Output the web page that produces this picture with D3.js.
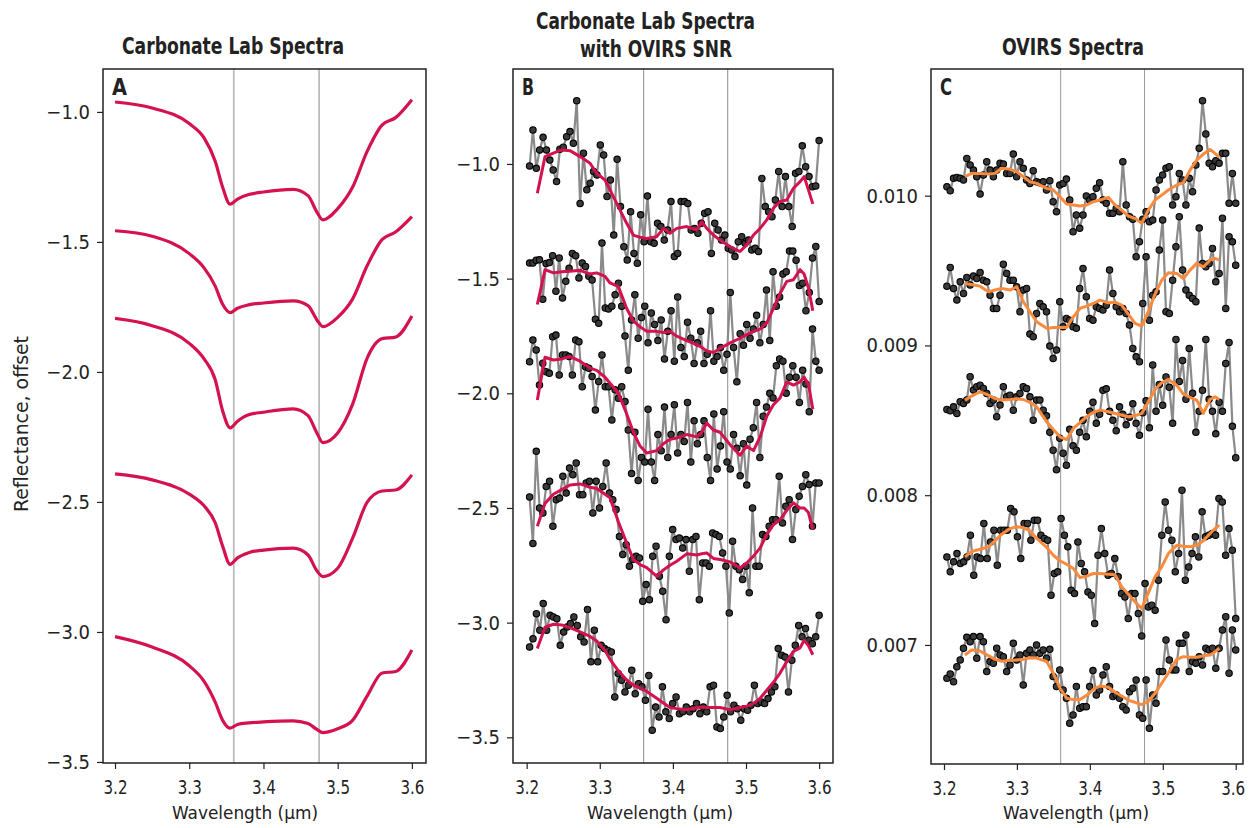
<!DOCTYPE html>
<html>
<head>
<meta charset="utf-8">
<script src="https://cdn.jsdelivr.net/npm/d3@7"></script>
<style>
body { margin: 0; background: #fff; }
svg text { font-family: 'Liberation Sans Narrow', 'DejaVu Sans Condensed', 'Liberation Sans', sans-serif; fill: #222; }
</style>
</head>
<body>
<svg id="chart" width="1249" height="828"></svg>
<script>
// ---- panel A: lab spectra (smooth) ----
var wlLab = [3.20, 3.25, 3.30, 3.32, 3.335, 3.345, 3.355, 3.365, 3.38, 3.40, 3.44, 3.46, 3.472, 3.48, 3.50, 3.52, 3.54, 3.56, 3.578, 3.60];
var lab1 = [-0.962, -0.985, -1.045, -1.10, -1.19, -1.29, -1.355, -1.335, -1.318, -1.308, -1.298, -1.322, -1.385, -1.415, -1.372, -1.29, -1.15, -1.05, -1.022, -0.953];
var lab2 = [-1.457, -1.478, -1.545, -1.60, -1.67, -1.74, -1.772, -1.755, -1.742, -1.735, -1.727, -1.745, -1.80, -1.826, -1.79, -1.72, -1.59, -1.49, -1.462, -1.403];
var lab3 = [-1.794, -1.822, -1.89, -1.95, -2.03, -2.15, -2.215, -2.19, -2.165, -2.155, -2.142, -2.168, -2.235, -2.272, -2.235, -2.125, -1.945, -1.872, -1.866, -1.785];
var lab4 = [-2.392, -2.415, -2.47, -2.515, -2.58, -2.67, -2.74, -2.715, -2.695, -2.685, -2.678, -2.704, -2.765, -2.787, -2.755, -2.64, -2.50, -2.458, -2.454, -2.396];
var lab5 = [-3.018, -3.058, -3.13, -3.19, -3.27, -3.34, -3.37, -3.356, -3.35, -3.346, -3.342, -3.352, -3.375, -3.387, -3.372, -3.34, -3.245, -3.158, -3.152, -3.069];

// ---- channel range of the noisy spectra (B and C) ----
var chanStart = 3.204, chanEnd = 3.600;

// ---- panel B: lab spectra with OVIRS SNR ----
var snr1 = [-1.009,-0.852,-1.019,-0.939,-0.884,-0.939,-0.983,-1.026,-1.077,-0.936,-0.927,-0.881,-0.859,-0.910,-0.724,-1.172,-0.953,-1.113,-1.084,-1.033,-1.048,-0.917,-0.961,-1.142,-1.070,-1.310,-0.980,-1.186,-1.361,-1.419,-1.208,-1.390,-1.433,-1.222,-1.339,-1.140,-1.339,-1.346,-1.259,-1.273,-1.332,-1.288,-1.164,-1.404,-1.390,-1.164,-1.164,-1.172,-1.288,-1.281,-1.302,-1.259,-1.215,-1.208,-1.390,-1.259,-1.288,-1.332,-1.310,-1.368,-1.375,-1.404,-1.339,-1.317,-1.346,-1.332,-1.375,-1.368,-1.382,-1.063,-1.186,-1.208,-1.230,-1.157,-1.033,-1.186,-1.055,-1.186,-1.273,-1.041,-1.033,-0.921,-1.012,-1.055,-1.099,-1.096,-0.898];
var snr2 = [-1.432,-1.432,-1.420,-1.418,-1.590,-1.434,-1.430,-1.400,-1.555,-1.410,-1.585,-1.512,-1.455,-1.390,-1.400,-1.497,-1.432,-1.447,-1.490,-1.506,-1.677,-1.695,-1.345,-1.628,-1.632,-1.620,-1.570,-1.520,-1.620,-1.750,-1.900,-1.680,-1.570,-1.760,-1.670,-1.620,-1.780,-1.650,-1.700,-1.770,-1.680,-1.850,-1.730,-1.640,-1.860,-1.580,-1.800,-1.840,-1.690,-1.760,-1.870,-1.780,-1.730,-1.870,-1.830,-1.640,-1.860,-1.840,-1.800,-1.900,-1.830,-1.560,-1.800,-1.950,-1.740,-1.790,-1.700,-1.760,-1.720,-1.660,-1.780,-1.700,-1.550,-1.770,-1.470,-1.620,-1.580,-1.480,-1.470,-1.380,-1.380,-1.420,-1.530,-1.520,-1.640,-1.560,-1.410,-1.360,-1.600];
var snr3 = [-1.862,-1.768,-1.811,-1.964,-1.869,-1.906,-1.913,-1.753,-1.746,-1.920,-1.833,-1.833,-1.840,-1.920,-1.768,-1.775,-1.971,-1.884,-1.891,-1.927,-2.073,-1.949,-1.833,-1.971,-1.971,-2.116,-1.985,-2.022,-1.971,-2.036,-2.16,-2.35,-2.17,-2.38,-2.28,-2.30,-2.07,-2.30,-2.38,-2.18,-2.25,-2.06,-2.28,-2.18,-2.05,-2.26,-2.18,-2.21,-2.04,-2.30,-2.12,-2.22,-2.18,-2.12,-2.28,-2.38,-2.09,-2.33,-2.23,-2.08,-2.30,-2.33,-2.18,-2.24,-2.36,-2.22,-2.40,-2.20,-2.15,-2.04,-2.28,-2.10,-2.06,-2.00,-2.02,-1.88,-1.85,-1.86,-2.00,-1.93,-1.88,-1.93,-2.04,-1.90,-1.96,-2.08,-1.72,-1.86,-1.90];
var snr4 = [-2.452,-2.655,-2.253,-2.500,-2.522,-2.406,-2.384,-2.580,-2.464,-2.457,-2.362,-2.435,-2.326,-2.355,-2.304,-2.442,-2.442,-2.391,-2.384,-2.522,-2.384,-2.500,-2.406,-2.304,-2.435,-2.464,-2.507,-2.624,-2.703,-2.660,-2.754,-2.725,-2.711,-2.718,-2.907,-2.834,-2.900,-2.711,-2.667,-2.798,-2.863,-2.987,-2.711,-2.594,-2.638,-2.631,-2.675,-2.638,-2.776,-2.638,-2.624,-2.900,-2.740,-2.740,-2.754,-2.609,-2.616,-2.624,-2.696,-2.754,-2.958,-2.645,-2.754,-2.769,-2.812,-2.754,-2.870,-2.500,-2.754,-2.754,-2.616,-2.624,-2.580,-2.551,-2.551,-2.362,-2.565,-2.493,-2.464,-2.638,-2.507,-2.449,-2.406,-2.355,-2.398,-2.580,-2.391,-2.391];
var snr5 = [-3.106,-3.070,-2.961,-3.033,-2.917,-3.033,-2.968,-2.975,-2.983,-3.099,-3.041,-3.019,-3.004,-2.975,-3.012,-3.062,-3.084,-2.943,-3.171,-3.033,-3.171,-3.099,-3.113,-3.121,-3.128,-3.324,-3.222,-3.251,-3.302,-3.273,-3.208,-3.310,-3.266,-3.280,-3.338,-3.230,-3.469,-3.368,-3.411,-3.280,-3.389,-3.418,-3.353,-3.324,-3.397,-3.389,-3.368,-3.389,-3.375,-3.353,-3.397,-3.368,-3.389,-3.280,-3.273,-3.455,-3.462,-3.411,-3.317,-3.389,-3.360,-3.375,-3.426,-3.375,-3.382,-3.360,-3.273,-3.353,-3.346,-3.353,-3.331,-3.302,-3.280,-3.113,-3.142,-3.150,-3.302,-3.164,-3.099,-3.012,-3.062,-3.026,-3.077,-3.092,-3.062,-2.968];

var wlSmoothB = [3.2146,3.2251,3.2365,3.2479,3.2593,3.2730,3.2867,3.2958,3.3072,3.3140,3.3254,3.3368,3.3460,3.3551,3.3642,3.3779,3.3870,3.3961,3.4053,3.4189,3.4326,3.4395,3.4463,3.4554,3.4645,3.4782,3.4919,3.5010,3.5102,3.5193,3.5284,3.5375,3.5466,3.5558,3.5649,3.5740,3.5795,3.5854,3.5914];
var smB1 = [-1.128,-0.968,-0.953,-0.939,-0.942,-0.968,-0.997,-1.041,-1.070,-1.113,-1.186,-1.259,-1.310,-1.320,-1.325,-1.317,-1.281,-1.302,-1.281,-1.273,-1.288,-1.252,-1.281,-1.310,-1.332,-1.361,-1.382,-1.353,-1.310,-1.281,-1.244,-1.193,-1.164,-1.157,-1.106,-1.077,-1.055,-1.113,-1.174];
var smB2 = [-1.613,-1.461,-1.475,-1.470,-1.468,-1.464,-1.480,-1.475,-1.490,-1.519,-1.535,-1.630,-1.685,-1.710,-1.730,-1.730,-1.735,-1.730,-1.751,-1.770,-1.788,-1.800,-1.815,-1.822,-1.805,-1.780,-1.760,-1.744,-1.730,-1.720,-1.693,-1.630,-1.565,-1.512,-1.505,-1.461,-1.480,-1.540,-1.640];
var smB3 = [-2.029,-1.843,-1.855,-1.850,-1.840,-1.860,-1.890,-1.900,-1.930,-1.956,-2.000,-2.090,-2.170,-2.230,-2.260,-2.250,-2.220,-2.200,-2.195,-2.180,-2.190,-2.170,-2.130,-2.160,-2.170,-2.224,-2.270,-2.230,-2.250,-2.190,-2.100,-2.050,-2.020,-1.950,-1.964,-1.950,-1.930,-1.960,-2.070];
var smB4 = [-2.580,-2.480,-2.440,-2.420,-2.400,-2.395,-2.410,-2.415,-2.440,-2.456,-2.560,-2.653,-2.725,-2.747,-2.760,-2.798,-2.770,-2.750,-2.732,-2.700,-2.705,-2.700,-2.696,-2.720,-2.725,-2.735,-2.762,-2.740,-2.710,-2.674,-2.616,-2.573,-2.551,-2.510,-2.478,-2.500,-2.500,-2.520,-2.594];
var smB5 = [-3.113,-3.020,-3.007,-3.010,-3.022,-3.040,-3.060,-3.080,-3.121,-3.160,-3.210,-3.250,-3.273,-3.285,-3.300,-3.330,-3.350,-3.370,-3.375,-3.380,-3.370,-3.368,-3.370,-3.370,-3.370,-3.380,-3.370,-3.365,-3.352,-3.330,-3.295,-3.260,-3.220,-3.170,-3.125,-3.110,-3.077,-3.100,-3.140];

// ---- panel C: OVIRS spectra ----
var ov1 = [0.010060,0.010033,0.010116,0.010122,0.010116,0.010105,0.010249,0.010205,0.010171,0.010127,0.010011,0.010138,0.010227,0.010171,0.010127,0.010171,0.010216,0.010211,0.010149,0.010149,0.010278,0.010127,0.010227,0.010183,0.010105,0.010082,0.010167,0.010093,0.010087,0.010093,0.010038,0.010100,0.009960,0.009893,0.010071,0.010082,0.010111,0.009971,0.009760,0.009871,0.009782,0.009871,0.009998,0.009971,0.009993,0.010049,0.010087,0.009971,0.009949,0.009882,0.009882,0.009915,0.009893,0.010227,0.009938,0.009860,0.009842,0.009593,0.009693,0.009842,0.009893,0.009826,0.009837,0.010038,0.010105,0.010138,0.010183,0.010194,0.009938,0.009993,0.010149,0.010105,0.009938,0.010116,0.010027,0.010205,0.010316,0.010634,0.010412,0.010216,0.010194,0.010234,0.010216,0.010283,0.010283,0.009949,0.010149,0.009949];
var ov2 = [0.009396,0.009521,0.009381,0.009303,0.009425,0.009347,0.009454,0.009403,0.009463,0.009447,0.009487,0.009436,0.009425,0.009336,0.009247,0.009247,0.009336,0.009543,0.009481,0.009436,0.009436,0.009392,0.009225,0.009370,0.009381,0.009076,0.009058,0.009214,0.009280,0.009258,0.009225,0.008996,0.008913,0.008969,0.009292,0.009125,0.009180,0.009169,0.009125,0.009114,0.009381,0.009514,0.009325,0.009180,0.009169,0.009258,0.009247,0.009236,0.009269,0.009503,0.009347,0.009258,0.009225,0.009247,0.009214,0.009136,0.008980,0.008924,0.008891,0.009280,0.009592,0.009169,0.009336,0.009358,0.009637,0.009837,0.009225,0.009214,0.009436,0.009659,0.009860,0.009503,0.009370,0.009336,0.009314,0.009292,0.009784,0.009548,0.009525,0.009548,0.009648,0.009425,0.009481,0.009850,0.009247,0.009726,0.009692,0.009536];
var ov3 = [0.008573,0.008564,0.008590,0.008546,0.008624,0.008613,0.008635,0.008791,0.008702,0.008724,0.008735,0.008713,0.008679,0.008613,0.008635,0.008524,0.008602,0.008724,0.008657,0.008668,0.008568,0.008657,0.008679,0.008724,0.008713,0.008657,0.008501,0.008635,0.008635,0.008568,0.008530,0.008420,0.008300,0.008170,0.008380,0.008280,0.008200,0.008440,0.008330,0.008300,0.008420,0.008500,0.008390,0.008560,0.008620,0.008480,0.008540,0.008700,0.008710,0.008560,0.008500,0.008430,0.008590,0.008540,0.008470,0.008520,0.008610,0.008480,0.008400,0.008550,0.008630,0.008450,0.008870,0.008560,0.008740,0.008600,0.008790,0.008720,0.008480,0.009040,0.008760,0.008900,0.008640,0.008980,0.008680,0.008420,0.008560,0.008700,0.009040,0.008640,0.008560,0.008410,0.008620,0.008560,0.008880,0.009020,0.008460,0.008250];
var ov4 = [0.007588,0.007488,0.007555,0.007610,0.007544,0.007555,0.007588,0.007733,0.007466,0.007588,0.007577,0.007811,0.007577,0.007688,0.007766,0.007533,0.007766,0.007766,0.007766,0.007911,0.007889,0.007722,0.007577,0.007811,0.007811,0.007699,0.007833,0.007833,0.007733,0.007711,0.007699,0.007332,0.007477,0.007488,0.007844,0.007733,0.007655,0.007366,0.007343,0.007688,0.007544,0.007488,0.007354,0.007332,0.007143,0.007599,0.007777,0.007610,0.007466,0.007477,0.007577,0.007455,0.007343,0.007321,0.007176,0.007343,0.007343,0.007210,0.007060,0.007410,0.007254,0.007265,0.007232,0.007432,0.007733,0.007955,0.007766,0.007699,0.007488,0.007610,0.008033,0.007432,0.007521,0.007610,0.007722,0.007588,0.007889,0.007722,0.007733,0.007744,0.007733,0.007978,0.007955,0.007599,0.007777,0.007633,0.007176];
var ov5 = [0.006777,0.006806,0.006755,0.006855,0.006900,0.006978,0.007051,0.007022,0.007056,0.006911,0.007056,0.007022,0.006822,0.006889,0.006878,0.006978,0.006933,0.006922,0.006822,0.006866,0.007011,0.006900,0.006933,0.006733,0.006944,0.006967,0.006933,0.007000,0.006944,0.006967,0.006911,0.006971,0.006789,0.006722,0.006833,0.006699,0.006644,0.006477,0.006533,0.006722,0.006577,0.006588,0.006588,0.006722,0.006829,0.006666,0.006699,0.006800,0.006855,0.006722,0.006655,0.006666,0.006644,0.006588,0.006566,0.006688,0.006711,0.006766,0.006533,0.006510,0.006766,0.006443,0.006666,0.006610,0.006822,0.006822,0.007033,0.006900,0.006833,0.006833,0.007011,0.007011,0.007067,0.006822,0.006889,0.006878,0.006922,0.006866,0.006978,0.006967,0.006978,0.006844,0.006978,0.007100,0.007189,0.006811,0.007100,0.006967];

var wlSmoothC = [3.2288,3.2379,3.2494,3.2608,3.2699,3.2791,3.2905,3.2997,3.3088,3.3179,3.3271,3.3408,3.3499,3.3591,3.3682,3.3774,3.3865,3.3956,3.4048,3.4139,3.4254,3.4345,3.4436,3.4528,3.4619,3.4711,3.4802,3.4894,3.4985,3.5076,3.5191,3.5282,3.5374,3.5465,3.5556,3.5648,3.5716,3.5776];
var smC1 = [0.010127,0.010149,0.010149,0.010145,0.010149,0.010183,0.010176,0.010160,0.010127,0.010093,0.010082,0.010049,0.010038,0.009993,0.009944,0.009938,0.009931,0.009938,0.009960,0.009971,0.009989,0.009938,0.009904,0.009864,0.009849,0.009815,0.009904,0.009971,0.010004,0.010038,0.010071,0.010087,0.010171,0.010238,0.010278,0.010309,0.010283,0.010256];
var smC2 = [0.009414,0.009407,0.009396,0.009358,0.009370,0.009381,0.009370,0.009392,0.009292,0.009225,0.009158,0.009114,0.009120,0.009120,0.009120,0.009191,0.009247,0.009263,0.009280,0.009303,0.009285,0.009289,0.009269,0.009209,0.009147,0.009129,0.009225,0.009343,0.009436,0.009485,0.009481,0.009447,0.009503,0.009548,0.009525,0.009570,0.009581,0.009570];
var smC3 = [0.008635,0.008662,0.008691,0.008668,0.008646,0.008635,0.008639,0.008644,0.008639,0.008619,0.008590,0.008490,0.008439,0.008390,0.008372,0.008446,0.008484,0.008524,0.008553,0.008568,0.008557,0.008546,0.008535,0.008524,0.008530,0.008546,0.008624,0.008706,0.008751,0.008773,0.008735,0.008675,0.008653,0.008635,0.008546,0.008639,0.008657,0.008639];
var smC4 = [0.007588,0.007624,0.007639,0.007655,0.007695,0.007740,0.007777,0.007789,0.007784,0.007762,0.007711,0.007651,0.007599,0.007561,0.007539,0.007510,0.007450,0.007459,0.007477,0.007477,0.007472,0.007468,0.007388,0.007339,0.007288,0.007243,0.007348,0.007455,0.007521,0.007610,0.007666,0.007659,0.007655,0.007666,0.007695,0.007744,0.007777,0.007800];
var smC5 = [0.006933,0.006967,0.006960,0.006929,0.006904,0.006891,0.006898,0.006900,0.006904,0.006915,0.006913,0.006889,0.006811,0.006711,0.006644,0.006635,0.006635,0.006664,0.006704,0.006726,0.006717,0.006684,0.006659,0.006630,0.006617,0.006602,0.006622,0.006677,0.006744,0.006811,0.006904,0.006922,0.006918,0.006918,0.006927,0.006933,0.006955,0.006978];

// ---- ticks and band centres ----
var xTicks = [3.2, 3.3, 3.4, 3.5, 3.6];
var yTicksAB = [-1.0, -1.5, -2.0, -2.5, -3.0, -3.5];
var yTicksC = [0.010, 0.009, 0.008, 0.007];
var bands = [3.36, 3.475];

var RED = '#d3124e', ORANGE = '#fb8a3c';
var svg = d3.select('#chart');

// squeeze a text element to a given width (the original uses a condensed face)
function fit(sel, w) {
    return sel.attr('textLength', w).attr('lengthAdjust', 'spacingAndGlyphs');
}

function makePanel(box, xDom, yDom, yTicks, yFmt, bandColor, bandWidth) {
    var x = d3.scaleLinear().domain(xDom).range([box.left, box.right]);
    var y = d3.scaleLinear().domain(yDom).range([box.bottom, box.top]);
    var g = svg.append('g');

    g.selectAll('line.band')
        .data(bands)
        .enter().append('line')
        .attr('class', 'band')
        .attr('x1', d => x(d)).attr('x2', d => x(d))
        .attr('y1', box.top).attr('y2', box.bottom)
        .attr('stroke', bandColor)
        .attr('stroke-width', bandWidth);

    var xAxis = g.append('g')
        .attr('class', 'xaxis')
        .attr('transform', 'translate(0,' + box.bottom + ')')
        .call(d3.axisBottom(x).tickValues(xTicks).tickFormat(d3.format('.1f')).tickSize(6).tickPadding(11));
    var yAxis = g.append('g')
        .attr('transform', 'translate(' + box.left + ',0)')
        .call(d3.axisLeft(y).tickValues(yTicks).tickFormat(d3.format(yFmt)).tickSize(6).tickPadding(7));
    [xAxis, yAxis].forEach(function (ax) {
        ax.select('.domain').remove();
        ax.selectAll('.tick line').attr('stroke', '#222').attr('stroke-width', 1.2);
        ax.selectAll('.tick text').attr('font-size', 20).attr('fill', '#222');
    });
    // condensed tick labels, right-anchored half a label width past the tick
    xAxis.selectAll('.tick text')
        .attr('text-anchor', 'end')
        .attr('x', 12)
        .attr('textLength', 24)
        .attr('lengthAdjust', 'spacingAndGlyphs');

    g.append('rect')
        .attr('x', box.left).attr('y', box.top)
        .attr('width', box.right - box.left).attr('height', box.bottom - box.top)
        .attr('fill', 'none').attr('stroke', '#222').attr('stroke-width', 1.5);

    return {x: x, y: y, g: g};
}

function smoothLine(p, xs, ys, color) {
    var line = d3.line()
        .x(function (d, i) { return p.x(xs[i]); })
        .y(function (d) { return p.y(d); });
    p.g.append('path')
        .datum(ys)
        .attr('d', line)
        .attr('fill', 'none')
        .attr('stroke', color)
        .attr('stroke-width', 3)
        .attr('stroke-linejoin', 'round');
}

function noisySpectrum(p, vals) {
    var n = vals.length;
    var wl = vals.map(function (v, i) { return chanStart + i * (chanEnd - chanStart) / (n - 1); });
    var pts = vals.map(function (v, i) { return [wl[i], v]; });
    p.g.append('path')
        .datum(pts)
        .attr('d', d3.line().x(d => p.x(d[0])).y(d => p.y(d[1])))
        .attr('fill', 'none')
        .attr('stroke', '#8a8a8a')
        .attr('stroke-width', 2.2);
    p.g.append('g').selectAll('circle')
        .data(pts)
        .enter().append('circle')
        .attr('cx', d => p.x(d[0]))
        .attr('cy', d => p.y(d[1]))
        .attr('r', 3.2)
        .attr('fill', '#3a3a3a')
        .attr('stroke', '#000')
        .attr('stroke-width', 1.1);
}

// panel A
var pA = makePanel({left: 103, right: 426, top: 69, bottom: 763}, [3.1838, 3.619], [-3.504, -0.835], yTicksAB, '.1f', '#bdbdbd', 1.8);
[lab1, lab2, lab3, lab4, lab5].forEach(function (s) {
    pA.g.append('path')
        .datum(s)
        .attr('d', d3.line().x((d, i) => pA.x(wlLab[i])).y(d => pA.y(d)).curve(d3.curveMonotoneX))
        .attr('fill', 'none')
        .attr('stroke', RED)
        .attr('stroke-width', 3.2);
});

// panel B
var pB = makePanel({left: 513, right: 833, top: 69, bottom: 763}, [3.1813, 3.619], [-3.612, -0.586], yTicksAB, '.1f', '#8c8c8c', 1);
var snrSets = [snr1, snr2, snr3, snr4, snr5];
var smB = [smB1, smB2, smB3, smB4, smB5];
snrSets.forEach(function (s) { noisySpectrum(pB, s); });
smB.forEach(function (s) { smoothLine(pB, wlSmoothB, s, RED); });

// panel C
var pC = makePanel({left: 931, right: 1243, top: 69, bottom: 764}, [3.1822, 3.610], [0.006205, 0.010846], yTicksC, '.3f', '#9a9a9a', 1);
var ovSets = [ov1, ov2, ov3, ov4, ov5];
var smC = [smC1, smC2, smC3, smC4, smC5];
ovSets.forEach(function (s) { noisySpectrum(pC, s); });
smC.forEach(function (s) { smoothLine(pC, wlSmoothC, s, ORANGE); });
// last label sits at the page edge: pull it in a little
pC.g.selectAll('.xaxis .tick text').filter(d => d === 3.6).attr('x', 9);

// panel letters
[[pA, 'A', 15], [pB, 'B', 12], [pC, 'C', 12]].forEach(function (d) {
    fit(d[0].g.append('text')
        .attr('x', d[0].x.range()[0] + 9)
        .attr('y', 95)
        .attr('font-size', 23)
        .attr('font-weight', 'bold')
        .text(d[1]), d[2]);
});

// titles (left edge, baseline, width)
function title(x, y, txt, w) {
    fit(svg.append('text').attr('x', x).attr('y', y)
        .attr('font-size', 23)
        .attr('font-weight', 'bold')
        .text(txt), w);
}
title(122, 54, 'Carbonate Lab Spectra', 222);
title(536, 29, 'Carbonate Lab Spectra', 219);
title(580, 57, 'with OVIRS SNR', 152);
title(1002, 55, 'OVIRS Spectra', 142);

// axis labels
[172, 587, 1003].forEach(function (left) {
    fit(svg.append('text').attr('x', left).attr('y', 819)
        .attr('font-size', 18)
        .text('Wavelength (µm)'), 146);
});
fit(svg.append('text')
    .attr('transform', 'translate(28,424) rotate(-90)')
    .attr('font-size', 19)
    .text('Reflectance, offset'), 176)
    .attr('x', -88);
</script>
</body>
</html>
